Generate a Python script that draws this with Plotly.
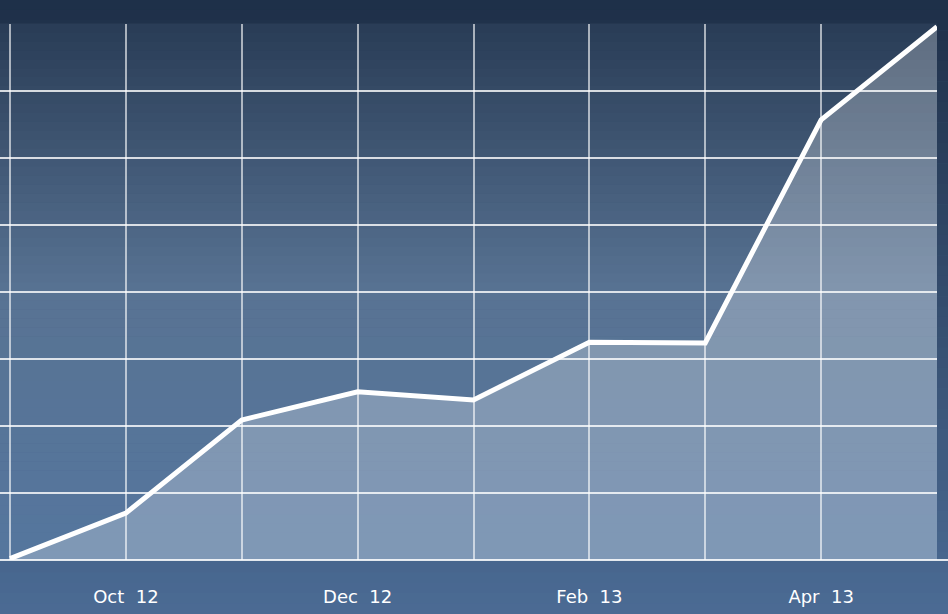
import plotly.graph_objects as go

# Data
months = ["Sep 12", "Oct 12", "Nov 12", "Dec 12", "Jan 13", "Feb 13", "Mar 13", "Apr 13", "May 13"]
values = [0.02, 0.70, 2.09, 2.51, 2.39, 3.25, 3.24, 6.57, 7.96]
tick_labels = ["", "Oct\u00a0\u00a012", "", "Dec\u00a0\u00a012", "", "Feb\u00a0\u00a013", "", "Apr\u00a0\u00a013", ""]

x_idx = list(range(len(months)))

W, H = 948, 614
L, R, T, B = 0, 11, 24, 54
plot_h = H - T - B


def lerp(c1, c2, t):
    return tuple(round(a + (b - a) * t) for a, b in zip(c1, c2))


def multi(stops, t):
    for i in range(len(stops) - 1):
        t0, c0 = stops[i]
        t1, c1 = stops[i + 1]
        if t0 <= t <= t1:
            return lerp(c0, c1, (t - t0) / (t1 - t0) if t1 > t0 else 0)
    return stops[-1][1]


shapes = []
# paper gradient (full figure)
paper_stops = [(0.0, (0x1e, 0x2f, 0x48)), (1.0, (0x4b, 0x6b, 0x94))]
n = 60
y_lo = -B / plot_h
y_hi = 1 + T / plot_h
for i in range(n):
    a = y_hi - (y_hi - y_lo) * i / n
    b = y_hi - (y_hi - y_lo) * (i + 1) / n
    c = multi(paper_stops, (i + 0.5) / n)
    shapes.append(dict(type="rect", xref="paper", yref="paper", x0=-0.02, x1=1.05,
                       y0=b, y1=a + 0.001, fillcolor="rgb(%d,%d,%d)" % c,
                       line=dict(width=0), layer="below"))
# plot-area gradient
plot_stops = [(0.0, (0x29, 0x3c, 0x56)), (0.5, (0x58, 0x73, 0x93)), (1.0, (0x55, 0x76, 0x9e))]
for i in range(n):
    a = 1 - i / n
    b = 1 - (i + 1) / n
    c = multi(plot_stops, (i + 0.5) / n)
    shapes.append(dict(type="rect", xref="paper", yref="paper", x0=0, x1=1,
                       y0=b, y1=a + 0.001, fillcolor="rgb(%d,%d,%d)" % c,
                       line=dict(width=0), layer="below"))
# baseline across full width
shapes.append(dict(type="line", xref="paper", yref="paper", x0=0, x1=1.05, y0=0, y1=0,
                   line=dict(color="rgba(255,255,255,0.85)", width=2), layer="below"))

fig = go.Figure()
fig.add_trace(go.Scatter(
    x=x_idx, y=values, mode="lines",
    line=dict(color="white", width=5),
    fill="tozeroy", fillcolor="rgba(255,255,255,0.25)",
    hoverinfo="skip", cliponaxis=False,
))

px_per = (W - L - R - 10) / 8.0
fig.update_layout(
    width=W, height=H,
    margin=dict(l=L, r=R, t=T, b=B, pad=0),
    paper_bgcolor="#4b6b94",
    plot_bgcolor="rgba(0,0,0,0)",
    showlegend=False,
    shapes=shapes,
    xaxis=dict(
        range=[-10 / px_per, 8],
        tickmode="array", tickvals=x_idx, ticktext=tick_labels,
        showgrid=True, gridcolor="rgba(255,255,255,0.6)", gridwidth=1.5,
        zeroline=False, showline=False,
        ticks="", ticklabelstandoff=24,
        tickfont=dict(family="DejaVu Sans", size=18, color="white"),
        fixedrange=True,
    ),
    yaxis=dict(
        range=[0, 8], dtick=1,
        showgrid=True, gridcolor="rgba(255,255,255,0.8)", gridwidth=2,
        zeroline=False, showline=False, showticklabels=False, ticks="",
        fixedrange=True,
    ),
)

fig.write_html(
    "out.html",
    config={"displayModeBar": False},
    post_script="document.body.style.margin='0';document.body.style.overflow='hidden';",
)
